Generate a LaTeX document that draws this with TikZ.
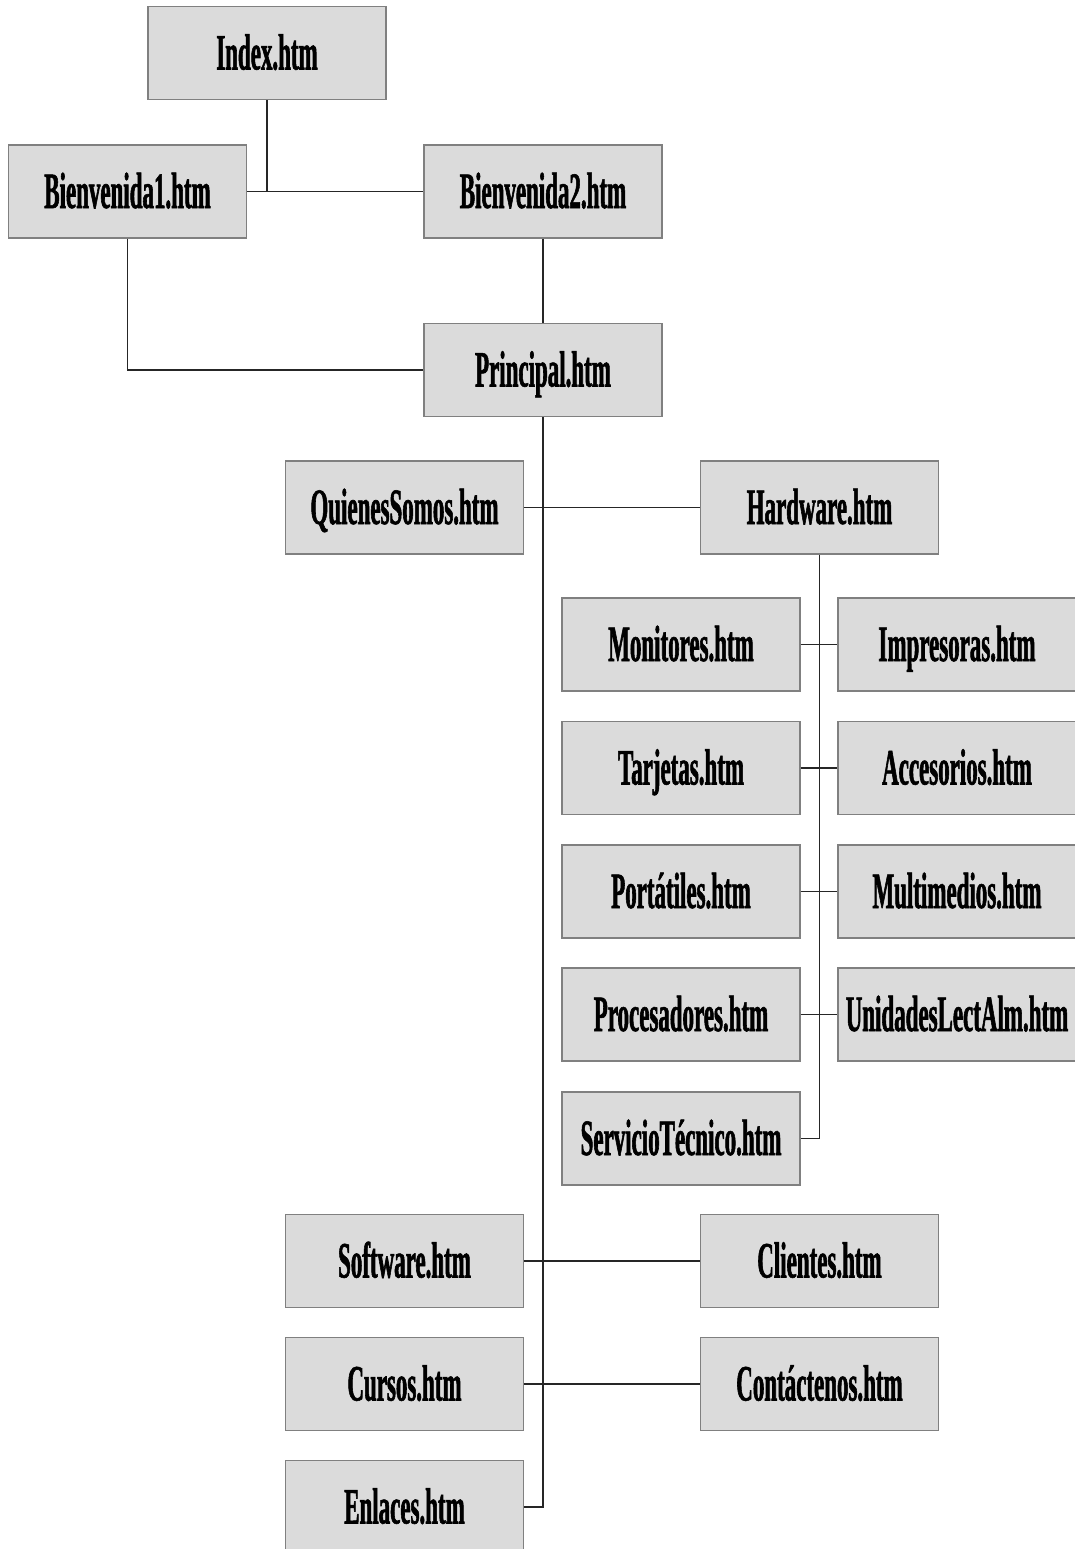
\documentclass[tikz,border=0pt]{standalone}
\usepackage{fontspec}
\setmainfont{Liberation Serif}
\newfontfamily\pagefont{Liberation Serif Bold}[FakeStretch=0.45,FakeBold=1.1]
\begin{document}
\begin{tikzpicture}[x=1pt,y=-1pt,
  page/.style={draw=black!50, line width=1.3pt, fill=black!14,
    minimum width=238pt, minimum height=93pt, inner sep=0pt,
    text height=33pt, text depth=0pt,
    font=\pagefont\fontsize{51}{60}\selectfont},
  link/.style={draw=black!85, line width=1.6pt}]
\clip (0,0) rectangle (1075,1549);
% nodes
\node[page] (index) at (267,53) {Index.htm};
\node[page] (b1) at (127.5,191.5) {Bienvenida1.htm};
\node[page] (b2) at (543,191.5) {Bienvenida2.htm};
\node[page] (princ) at (543,370) {Principal.htm};
\node[page] (qs) at (404.5,507.5) {QuienesSomos.htm};
\node[page] (hw) at (819.5,507.5) {Hardware.htm};
\node[page] (mon) at (681,644.5) {Monitores.htm};
\node[page] (imp) at (957,644.5) {Impresoras.htm};
\node[page] (tar) at (681,768) {Tarjetas.htm};
\node[page] (acc) at (957,768) {Accesorios.htm};
\node[page] (por) at (681,891.5) {Portátiles.htm};
\node[page] (mul) at (957,891.5) {Multimedios.htm};
\node[page] (pro) at (681,1014.5) {Procesadores.htm};
\node[page] (uni) at (957,1014.5) {UnidadesLectAlm.htm};
\node[page] (st) at (681,1138.5) {ServicioTécnico.htm};
\node[page] (sw) at (404.5,1261) {Software.htm};
\node[page] (cli) at (819.5,1261) {Clientes.htm};
\node[page] (cur) at (404.5,1384) {Cursos.htm};
\node[page] (con) at (819.5,1384) {Contáctenos.htm};
\node[page] (enl) at (404.5,1507) {Enlaces.htm};
% connectors
\coordinate (j1) at (index.south |- b1.east);
\draw[link] (index.south) -- (j1);
\draw[link] (b1.east) -- (b2.west);
\draw[link] (b2.south) -- (princ.north);
\draw[link] (b1.south) |- (princ.west);
\coordinate (pe) at (princ.south |- enl.east);
\draw[link] (princ.south) -- (pe) -- (enl.east);
\draw[link] (qs.east) -- (hw.west);
\draw[link] (hw.south) |- (st.east);
\draw[link] (mon.east) -- (imp.west);
\draw[link] (tar.east) -- (acc.west);
\draw[link] (por.east) -- (mul.west);
\draw[link] (pro.east) -- (uni.west);
\draw[link] (sw.east) -- (cli.west);
\draw[link] (cur.east) -- (con.west);
\end{tikzpicture}
\end{document}
